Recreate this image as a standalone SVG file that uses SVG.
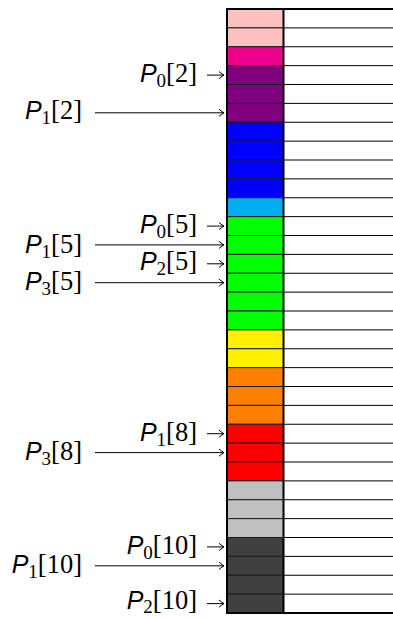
<svg xmlns="http://www.w3.org/2000/svg" width="393" height="618" viewBox="0 0 393 618">
<defs>
<style>
.lbl{font-family:"Liberation Serif","Times New Roman",serif;font-size:26.5px;fill:#000}
.p{font-family:"Liberation Sans",Arial,sans-serif;font-style:italic;font-size:25px}
.sub{font-size:19px}
.cell{stroke:#1a1a1a;stroke-width:1}
.rl{stroke:#000;stroke-width:1}
.arr{stroke:#000;stroke-width:1;fill:none;marker-end:url(#ah)}
.bd{stroke:#000;stroke-width:2;fill:none}
</style>
<marker id="ah" markerWidth="10" markerHeight="10" refX="0" refY="0" viewBox="-6 -5 7 10" orient="auto" markerUnits="userSpaceOnUse">
<path d="M-5,-3.6 Q-1.5,-0.6 0,0 Q-1.5,0.6 -5,3.6" fill="none" stroke="#000" stroke-width="1"/>
</marker>
</defs>
<rect width="393" height="618" fill="#fff"/>
<g id="memory">
<rect class="cell" x="227" y="9" width="56.5" height="18.875" fill="#FFC0C0"/>
<rect class="cell" x="227" y="27.875" width="56.5" height="18.875" fill="#FFC0C0"/>
<rect class="cell" x="227" y="46.75" width="56.5" height="18.875" fill="#EC008C"/>
<rect class="cell" x="227" y="65.625" width="56.5" height="18.875" fill="#800080"/>
<rect class="cell" x="227" y="84.5" width="56.5" height="18.875" fill="#800080"/>
<rect class="cell" x="227" y="103.375" width="56.5" height="18.875" fill="#800080"/>
<rect class="cell" x="227" y="122.25" width="56.5" height="18.875" fill="#0000FF"/>
<rect class="cell" x="227" y="141.125" width="56.5" height="18.875" fill="#0000FF"/>
<rect class="cell" x="227" y="160" width="56.5" height="18.875" fill="#0000FF"/>
<rect class="cell" x="227" y="178.875" width="56.5" height="18.875" fill="#0000FF"/>
<rect class="cell" x="227" y="197.75" width="56.5" height="18.875" fill="#00AEEF"/>
<rect class="cell" x="227" y="216.625" width="56.5" height="18.875" fill="#00FF00"/>
<rect class="cell" x="227" y="235.5" width="56.5" height="18.875" fill="#00FF00"/>
<rect class="cell" x="227" y="254.375" width="56.5" height="18.875" fill="#00FF00"/>
<rect class="cell" x="227" y="273.25" width="56.5" height="18.875" fill="#00FF00"/>
<rect class="cell" x="227" y="292.125" width="56.5" height="18.875" fill="#00FF00"/>
<rect class="cell" x="227" y="311" width="56.5" height="18.875" fill="#00FF00"/>
<rect class="cell" x="227" y="329.875" width="56.5" height="18.875" fill="#FFF000"/>
<rect class="cell" x="227" y="348.75" width="56.5" height="18.875" fill="#FFF000"/>
<rect class="cell" x="227" y="367.625" width="56.5" height="18.875" fill="#FF8000"/>
<rect class="cell" x="227" y="386.5" width="56.5" height="18.875" fill="#FF8000"/>
<rect class="cell" x="227" y="405.375" width="56.5" height="18.875" fill="#FF8000"/>
<rect class="cell" x="227" y="424.25" width="56.5" height="18.875" fill="#FF0000"/>
<rect class="cell" x="227" y="443.125" width="56.5" height="18.875" fill="#FF0000"/>
<rect class="cell" x="227" y="462" width="56.5" height="18.875" fill="#FF0000"/>
<rect class="cell" x="227" y="480.875" width="56.5" height="18.875" fill="#C0C0C0"/>
<rect class="cell" x="227" y="499.75" width="56.5" height="18.875" fill="#C0C0C0"/>
<rect class="cell" x="227" y="518.625" width="56.5" height="18.875" fill="#C0C0C0"/>
<rect class="cell" x="227" y="537.5" width="56.5" height="18.875" fill="#404040"/>
<rect class="cell" x="227" y="556.375" width="56.5" height="18.875" fill="#404040"/>
<rect class="cell" x="227" y="575.25" width="56.5" height="18.875" fill="#404040"/>
<rect class="cell" x="227" y="594.125" width="56.5" height="18.875" fill="#404040"/>
<path class="rl" d="M283.5,27.875H393M283.5,46.75H393M283.5,65.625H393M283.5,84.5H393M283.5,103.375H393M283.5,122.25H393M283.5,141.125H393M283.5,160H393M283.5,178.875H393M283.5,197.75H393M283.5,216.625H393M283.5,235.5H393M283.5,254.375H393M283.5,273.25H393M283.5,292.125H393M283.5,311H393M283.5,329.875H393M283.5,348.75H393M283.5,367.625H393M283.5,386.5H393M283.5,405.375H393M283.5,424.25H393M283.5,443.125H393M283.5,462H393M283.5,480.875H393M283.5,499.75H393M283.5,518.625H393M283.5,537.5H393M283.5,556.375H393M283.5,575.25H393M283.5,594.125H393"/>
<path class="bd" d="M393,9H227V613H393M283.5,9V613"/>
</g>
<g id="connectors">
<line class="arr" x1="207" y1="75.1" x2="224" y2="75.1"/>
<line class="arr" x1="95" y1="112.8" x2="224" y2="112.8"/>
<line class="arr" x1="207" y1="226.1" x2="224" y2="226.1"/>
<line class="arr" x1="95" y1="244.9" x2="224" y2="244.9"/>
<line class="arr" x1="207" y1="263.8" x2="224" y2="263.8"/>
<line class="arr" x1="95" y1="282.7" x2="224" y2="282.7"/>
<line class="arr" x1="207" y1="433.7" x2="224" y2="433.7"/>
<line class="arr" x1="95" y1="452.6" x2="224" y2="452.6"/>
<line class="arr" x1="207" y1="546.9" x2="224" y2="546.9"/>
<line class="arr" x1="95" y1="565.8" x2="224" y2="565.8"/>
<line class="arr" x1="207" y1="603.6" x2="224" y2="603.6"/>
</g>
<g id="label-p0-2"><text class="lbl" x="197" y="82" text-anchor="end"><tspan class="p">P</tspan><tspan class="sub" dy="5">0</tspan><tspan dy="-5">[2]</tspan></text></g>
<g id="label-p1-2"><text class="lbl" x="82" y="119" text-anchor="end"><tspan class="p">P</tspan><tspan class="sub" dy="5">1</tspan><tspan dy="-5">[2]</tspan></text></g>
<g id="label-p0-5"><text class="lbl" x="197" y="233" text-anchor="end"><tspan class="p">P</tspan><tspan class="sub" dy="5">0</tspan><tspan dy="-5">[5]</tspan></text></g>
<g id="label-p1-5"><text class="lbl" x="82" y="253" text-anchor="end"><tspan class="p">P</tspan><tspan class="sub" dy="5">1</tspan><tspan dy="-5">[5]</tspan></text></g>
<g id="label-p2-5"><text class="lbl" x="197" y="270" text-anchor="end"><tspan class="p">P</tspan><tspan class="sub" dy="5">2</tspan><tspan dy="-5">[5]</tspan></text></g>
<g id="label-p3-5"><text class="lbl" x="82" y="290" text-anchor="end"><tspan class="p">P</tspan><tspan class="sub" dy="5">3</tspan><tspan dy="-5">[5]</tspan></text></g>
<g id="label-p1-8"><text class="lbl" x="197" y="441" text-anchor="end"><tspan class="p">P</tspan><tspan class="sub" dy="5">1</tspan><tspan dy="-5">[8]</tspan></text></g>
<g id="label-p3-8"><text class="lbl" x="82" y="460" text-anchor="end"><tspan class="p">P</tspan><tspan class="sub" dy="5">3</tspan><tspan dy="-5">[8]</tspan></text></g>
<g id="label-p0-10"><text class="lbl" x="197" y="554" text-anchor="end"><tspan class="p">P</tspan><tspan class="sub" dy="5">0</tspan><tspan dy="-5">[10]</tspan></text></g>
<g id="label-p1-10"><text class="lbl" x="82" y="573" text-anchor="end"><tspan class="p">P</tspan><tspan class="sub" dy="5">1</tspan><tspan dy="-5">[10]</tspan></text></g>
<g id="label-p2-10"><text class="lbl" x="197" y="609" text-anchor="end"><tspan class="p">P</tspan><tspan class="sub" dy="4">2</tspan><tspan dy="-4">[10]</tspan></text></g>
</svg>
